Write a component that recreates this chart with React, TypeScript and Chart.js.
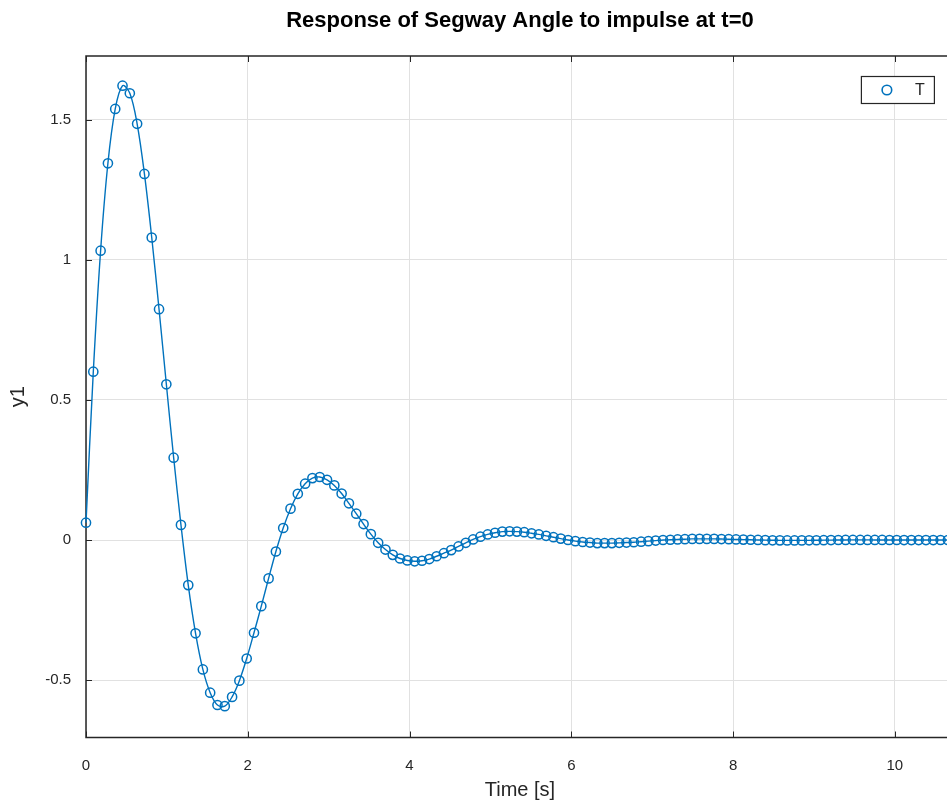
import React, { useEffect, useRef } from "react";
import { Chart, registerables } from "chart.js";

Chart.register(...registerables);

const TITLE = "Response of Segway Angle to impulse at t=0";
const X_LABEL = "Time [s]";
const Y_LABEL = "y1";
const SERIES_NAME = "T";

// sample spacing of the simulation (s)
const TIME_STEP = 0.0903;

// response values, one per sample
const yValues = [
  0.062, 0.601, 1.033, 1.345, 1.539, 1.622, 1.595, 1.486, 1.307, 1.08,
  0.824, 0.556, 0.294, 0.054, -0.161, -0.333, -0.462, -0.545, -0.589, -0.593,
  -0.56, -0.502, -0.423, -0.331, -0.236, -0.137, -0.041, 0.043, 0.112, 0.165,
  0.201, 0.221, 0.225, 0.215, 0.195, 0.166, 0.131, 0.094, 0.057, 0.021,
  -0.01, -0.034, -0.053, -0.066, -0.073, -0.076, -0.074, -0.068, -0.058, -0.047,
  -0.036, -0.023, -0.01, 0.002, 0.012, 0.02, 0.026, 0.03, 0.031, 0.03,
  0.028, 0.024, 0.02, 0.015, 0.01, 0.005, 0.0, -0.004, -0.007, -0.009,
  -0.011, -0.011, -0.011, -0.01, -0.009, -0.008, -0.006, -0.004, -0.002, 0.0,
  0.001, 0.002, 0.003, 0.004, 0.004, 0.004, 0.004, 0.0035, 0.003, 0.002,
  0.0015, 0.001, 0.0002, -0.0004, -0.0009, -0.0012, -0.0014, -0.0014, -0.0013, -0.0011,
  -0.0008, -0.0005, -0.0002, 0.0001, 0.0003, 0.0004, 0.0004, 0.0004, 0.0003, 0.0002,
  0.0001, 0.0, -0.0001, -0.0001, -0.0001, -0.0001, -0.0001, 0.0, 0.0,
];

const times = yValues.map((_, i) => +(i * TIME_STEP).toFixed(4));

const xTicks = [0, 2, 4, 6, 8, 10];
const yTicks = [-0.5, 0, 0.5, 1, 1.5];

const X_MIN = 0;
const X_MAX = 10.73;
const Y_MIN = -0.705;
const Y_MAX = 1.728;

const BLUE = "#0072BD";
const AXIS_COLOR = "#262626";
const TEXT_COLOR = "#262626";
const GRID_COLOR = "#e1e1e1";
const FONT = "'Liberation Sans', Arial, Helvetica, sans-serif";

const CANVAS_W = 960;
const CANVAS_H = 803;

const axisBoxPlugin = {
  id: "axisBox",
  beforeDatasetsDraw(chart: any) {
    const { ctx, chartArea: ca, scales } = chart;
    const xs = scales.x;
    const ys = scales.y;
    const TL = 6;
    ctx.save();
    ctx.strokeStyle = AXIS_COLOR;
    ctx.lineWidth = 1;
    ctx.beginPath();
    for (const v of xTicks) {
      const px = Math.round(xs.getPixelForValue(v)) + 0.5;
      ctx.moveTo(px, ca.bottom);
      ctx.lineTo(px, ca.bottom - TL);
      ctx.moveTo(px, ca.top);
      ctx.lineTo(px, ca.top + TL);
    }
    for (const v of yTicks) {
      const py = Math.round(ys.getPixelForValue(v)) + 0.5;
      ctx.moveTo(ca.left, py);
      ctx.lineTo(ca.left + TL, py);
      ctx.moveTo(ca.right, py);
      ctx.lineTo(ca.right - TL, py);
    }
    ctx.stroke();
    ctx.lineWidth = 1.5;
    ctx.beginPath();
    ctx.rect(ca.left, ca.top, ca.right - ca.left, ca.bottom - ca.top);
    ctx.stroke();
    ctx.restore();
  },
  afterDraw(chart: any) {
    const { ctx, chartArea: ca } = chart;
    const bx = ca.right - 93;
    const by = ca.top + 20;
    const bw = 73;
    const bh = 27;
    ctx.save();
    ctx.fillStyle = "#ffffff";
    ctx.fillRect(bx, by, bw, bh);
    ctx.strokeStyle = AXIS_COLOR;
    ctx.lineWidth = 1.2;
    ctx.strokeRect(bx + 0.5, by + 0.5, bw, bh);
    ctx.strokeStyle = BLUE;
    ctx.lineWidth = 1.6;
    ctx.beginPath();
    ctx.arc(bx + 26, by + bh / 2 + 0.5, 4.8, 0, Math.PI * 2);
    ctx.stroke();
    ctx.fillStyle = TEXT_COLOR;
    ctx.font = `16px ${FONT}`;
    ctx.textAlign = "center";
    ctx.textBaseline = "middle";
    ctx.fillText(SERIES_NAME, bx + 59, by + bh / 2 + 1);
    ctx.restore();
  },
};

export default function App() {
  const ref = useRef<HTMLCanvasElement | null>(null);

  useEffect(() => {
    const canvas = ref.current;
    if (!canvas) return;
    const chart = new Chart(canvas, {
      type: "line",
      data: {
        datasets: [
          {
            label: SERIES_NAME,
            data: times.map((t, i) => ({ x: t, y: yValues[i] })),
            borderColor: BLUE,
            borderWidth: 1.4,
            tension: 0.35,
            fill: false,
            pointStyle: "circle",
            pointRadius: 4.6,
            pointBorderWidth: 1.5,
            pointBorderColor: BLUE,
            pointBackgroundColor: "rgba(0,0,0,0)",
            clip: false as any,
          },
        ],
      },
      options: {
        animation: false,
        responsive: false,
        devicePixelRatio: 1,
        layout: { padding: { left: 0, right: 4, top: 0, bottom: 0 } },
        plugins: {
          legend: { display: false },
          tooltip: { enabled: false },
          title: {
            display: true,
            text: TITLE,
            fullSize: false,
            color: "#000000",
            font: { family: FONT, size: 22, weight: "bold", lineHeight: 1.2 },
            padding: { top: 7.5, bottom: 22.1 },
          },
        },
        scales: {
          x: {
            type: "linear",
            min: X_MIN,
            max: X_MAX,
            afterFit: (s: any) => {
              s.height = 65.5;
            },
            afterBuildTicks: (s: any) => {
              s.ticks = xTicks.map((v) => ({ value: v }));
            },
            ticks: {
              color: TEXT_COLOR,
              font: { family: FONT, size: 15 },
              padding: 19,
              maxRotation: 0,
              callback: (v: any) => String(v),
            },
            grid: { color: GRID_COLOR, lineWidth: 1, drawTicks: false },
            border: { display: false },
            title: {
              display: true,
              text: X_LABEL,
              color: TEXT_COLOR,
              font: { family: FONT, size: 20, lineHeight: 1.2 },
              padding: { top: 0, bottom: 1 },
            },
          },
          y: {
            type: "linear",
            min: Y_MIN,
            max: Y_MAX,
            afterFit: (s: any) => {
              s.width = 86;
            },
            afterBuildTicks: (s: any) => {
              s.ticks = yTicks.map((v) => ({ value: v }));
            },
            ticks: {
              color: TEXT_COLOR,
              font: { family: FONT, size: 15 },
              padding: 15,
              callback: (v: any) => String(v),
            },
            grid: { color: GRID_COLOR, lineWidth: 1, drawTicks: false },
            border: { display: false },
            title: {
              display: true,
              text: Y_LABEL,
              color: TEXT_COLOR,
              font: { family: FONT, size: 20, lineHeight: 1.2 },
              padding: { top: 6, bottom: 0 },
            },
          },
        },
      },
      plugins: [axisBoxPlugin],
    });
    return () => chart.destroy();
  }, []);

  return (
    <div
      style={{
        position: "fixed",
        left: 0,
        top: 0,
        width: 947,
        height: 803,
        overflow: "hidden",
        background: "#ffffff",
      }}
    >
      <canvas ref={ref} width={CANVAS_W} height={CANVAS_H} style={{ display: "block" }} />
    </div>
  );
}
